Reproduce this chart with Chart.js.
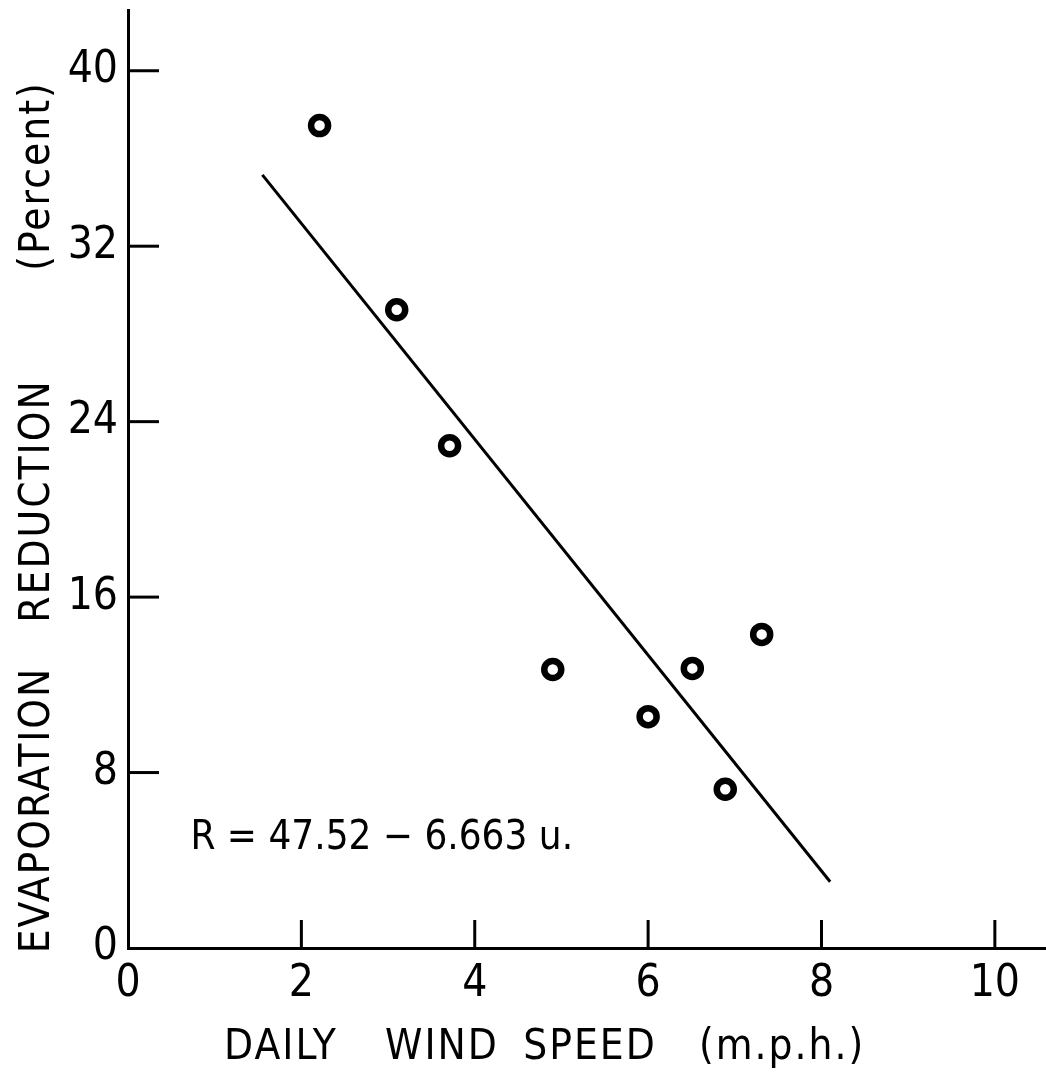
<!DOCTYPE html>
<html>
<head>
<meta charset="utf-8">
<script src="https://cdn.jsdelivr.net/npm/chart.js@4.4.1/dist/chart.umd.min.js"></script>
<style>
  html, body { margin: 0; padding: 0; background: #fff; }
  #wrap { width: 1046px; height: 1076px; }
</style>
</head>
<body>
<div id="wrap"><canvas id="c" width="1046" height="1076"></canvas></div>
<script>
// ---- data ----
const windSpeed = [2.21, 3.10, 3.71, 4.90, 6.00, 6.51, 6.89, 7.31];
const reduction = [37.5, 29.1, 22.9, 12.7, 10.55, 12.75, 7.24, 14.3];
const fitX = [1.55, 8.10];
const fitY = [35.25, 3.02];
const xTicks = [0, 2, 4, 6, 8, 10];
const yTicks = [0, 8, 16, 24, 32, 40];
const xTitleWords = ["DAILY", "WIND", "SPEED", "(m.p.h.)"];
const yTitleWords = ["EVAPORATION", "REDUCTION", "(Percent)"];
const equation = "R = 47.52 \u2212 6.663 u.";

const FONT = '"DejaVu Sans Condensed", "Liberation Sans Narrow", "Liberation Sans", sans-serif';

const pts = windSpeed.map((x, i) => ({ x, y: reduction[i] }));
const fitPts = fitX.map((x, i) => ({ x, y: fitY[i] }));

// word centres (canvas pixels) for the axis titles
const xTitleCentres = [281, 442, 590, 782];
const yTitleCentres = [810, 501, 176];

const decor = {
  id: 'decor',
  afterDraw(chart) {
    const ctx = chart.ctx;
    const xs = chart.scales.x, ys = chart.scales.y;
    ctx.save();
    ctx.strokeStyle = '#000';
    ctx.lineWidth = 3;
    ctx.lineCap = 'butt';
    // inward ticks
    xTicks.forEach(v => {
      if (v === 0) return;
      const px = xs.getPixelForValue(v);
      ctx.beginPath();
      ctx.moveTo(px, ys.bottom);
      ctx.lineTo(px, ys.bottom - 28);
      ctx.stroke();
    });
    yTicks.forEach(v => {
      if (v === 0) return;
      const py = ys.getPixelForValue(v);
      ctx.beginPath();
      ctx.moveTo(xs.left, py);
      ctx.lineTo(xs.left + 31, py);
      ctx.stroke();
    });
    ctx.fillStyle = '#000';
    // equation text
    ctx.font = '40px ' + FONT;
    ctx.textAlign = 'left';
    ctx.textBaseline = 'middle';
    try { ctx.letterSpacing = '0px'; } catch (e) {}
    ctx.fillText(equation, xs.getPixelForValue(0.72), ys.getPixelForValue(5.0));
    // x title
    ctx.font = '42px ' + FONT;
    try { ctx.letterSpacing = '2px'; } catch (e) {}
    ctx.textAlign = 'center';
    xTitleWords.forEach((w, i) => ctx.fillText(w, xTitleCentres[i], 1048));
    // y title
    ctx.translate(38, 0);
    ctx.rotate(-Math.PI / 2);
    yTitleWords.forEach((w, i) => ctx.fillText(w, -yTitleCentres[i], 0));
    ctx.restore();
  }
};

new Chart(document.getElementById('c'), {
  type: 'scatter',
  data: {
    datasets: [
      {
        type: 'line',
        data: fitPts,
        borderColor: '#000',
        borderWidth: 3,
        pointRadius: 0,
        fill: false,
        tension: 0
      },
      {
        data: pts,
        pointStyle: 'circle',
        pointRadius: 8.5,
        borderWidth: 6.5,
        borderColor: '#000',
        backgroundColor: '#fff'
      },
      {
        data: pts,
        pointStyle: 'circle',
        pointRadius: 2,
        borderWidth: 0,
        backgroundColor: '#000'
      }
    ]
  },
  options: {
    responsive: false,
    animation: false,
    devicePixelRatio: 1,
    layout: { autoPadding: false, padding: { top: 10, right: 0, left: 0, bottom: 0 } },
    plugins: { legend: { display: false }, tooltip: { enabled: false } },
    scales: {
      x: {
        type: 'linear',
        min: 0,
        max: 10.59,
        afterFit(s) { s.height = 128; s.paddingLeft = 0; s.paddingRight = 0; },
        afterBuildTicks(s) { s.ticks = xTicks.map(v => ({ value: v })); },
        grid: { display: false, drawTicks: false },
        border: { display: true, color: '#000', width: 3 },
        ticks: {
          padding: 10,
          color: '#000',
          font: { family: FONT, size: 44 },
          callback: v => String(v)
        }
      },
      y: {
        type: 'linear',
        min: 0,
        max: 42.77,
        afterFit(s) { s.width = 128; s.paddingTop = 0; s.paddingBottom = 0; },
        afterBuildTicks(s) { s.ticks = yTicks.map(v => ({ value: v })); },
        grid: { display: false, drawTicks: false },
        border: { display: true, color: '#000', width: 3 },
        ticks: {
          padding: 10,
          color: '#000',
          font: { family: FONT, size: 44 },
          callback: v => String(v)
        }
      }
    }
  },
  plugins: [decor]
});
</script>
</body>
</html>
